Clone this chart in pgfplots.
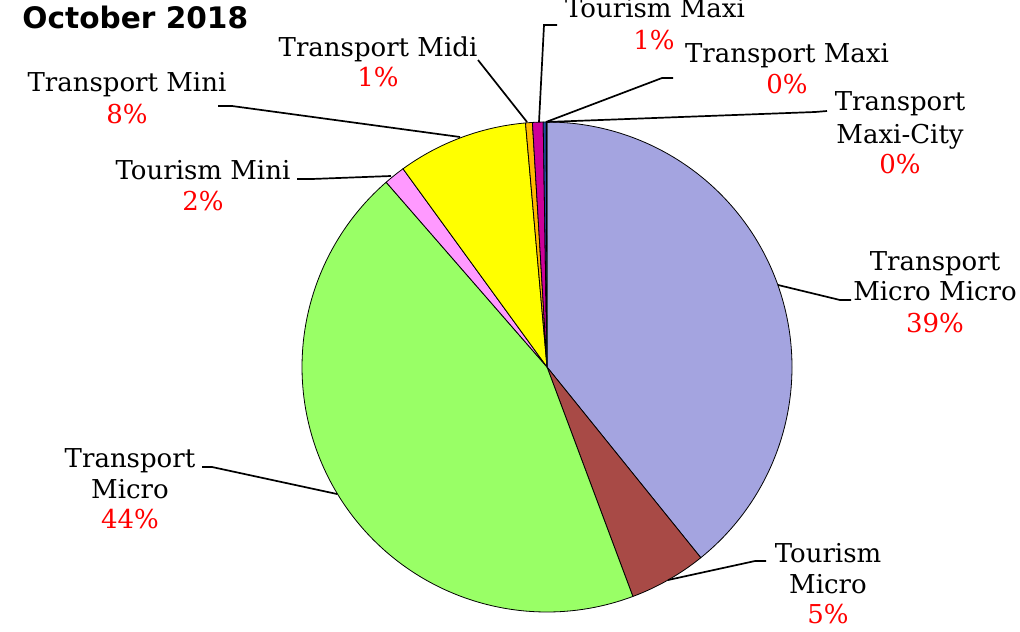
\documentclass[border=0pt]{standalone}
\usepackage{fontspec}
\setmainfont{DejaVu Serif}
\newfontfamily\titlefont{DejaVu Sans}
\usepackage{pgfplots}
\pgfplotsset{compat=1.18}
\usepackage{pgfplotstable}
\definecolor{cmm}{HTML}{A4A4E0}
\definecolor{ctmi}{HTML}{A84A46}
\definecolor{cmic}{HTML}{99FF66}
\definecolor{ctmn}{HTML}{FF99FF}
\definecolor{cmin}{HTML}{FFFF00}
\definecolor{cmid}{HTML}{FFB800}
\definecolor{ctmx}{HTML}{CC0099}
\definecolor{cmax}{HTML}{1F4E9F}
\definecolor{cmxc}{HTML}{33CCCC}
\definecolor{pct}{HTML}{FF0000}

% share of each type, clockwise from 12 o'clock
\pgfplotstableread{
value color
39.2  cmm
5.1   ctmi
44.3  cmic
1.4   ctmn
8.6   cmin
0.45  cmid
0.7   ctmx
0.2   cmax
0.05  cmxc
}\piedata
\pgfplotstablecreatecol[create col/expr accum={\pgfmathaccuma + \thisrow{value}}{0}]{cum}\piedata

\newcommand\lab[3]{\node[font=\fontsize{13}{15}\selectfont,anchor=base] at (axis cs:#1,#2) {#3};}
\newcommand\pc[3]{\node[font=\fontsize{13}{15}\selectfont,anchor=base,text=pct] at (axis cs:#1,#2) {#3};}

\begin{document}
\begin{tikzpicture}
\useasboundingbox (0,0) rectangle (510pt,315.5pt);
\clip (0,0) rectangle (510pt,315.5pt);
\begin{axis}[
  at={(0,0)},anchor=south west,
  scale only axis,width=510pt,height=315.5pt,
  xmin=0,xmax=1020,ymin=0,ymax=631,y dir=reverse,
  hide axis,clip=false
]
\pgfplotsforeachungrouped \i in {0,...,8}{
  \pgfplotstablegetelem{\i}{cum}\of\piedata \let\c\pgfplotsretval
  \pgfplotstablegetelem{\i}{value}\of\piedata \let\v\pgfplotsretval
  \pgfplotstablegetelem{\i}{color}\of\piedata \let\col\pgfplotsretval
  \pgfmathsetmacro\aend{90-3.6*\c}
  \pgfmathsetmacro\astart{90-3.6*(\c-\v)}
  \edef\temp{\noexpand\addplot[fill=\col,draw=black,line width=0.4pt,domain=\aend:\astart,samples=120]
    ({547+245*cos(x)},{367-245*sin(x)}) -- (axis cs:547,367) -- cycle;}
  \temp
}

% leader lines
\begin{scope}[line width=0.85pt]
\draw (axis cs:218,106) -- (axis cs:232,106) -- (axis cs:460,137);
\draw (axis cs:297,179) -- (axis cs:312,179) -- (axis cs:391,176);
\draw (axis cs:478,60) -- (axis cs:527,122);
\draw (axis cs:557,25) -- (axis cs:544,25) -- (axis cs:539,122);
\draw (axis cs:673,78) -- (axis cs:662,78) -- (axis cs:546,122);
\draw (axis cs:827,111) -- (axis cs:815,112) -- (axis cs:547,122);
\draw (axis cs:778,285) -- (axis cs:840,300) -- (axis cs:851,300);
\draw (axis cs:668,580) -- (axis cs:755,561) -- (axis cs:766,561);
\draw (axis cs:202,467) -- (axis cs:212,467) -- (axis cs:337,494);
\end{scope}

% labels
\node[font=\titlefont\bfseries\fontsize{14.8}{18}\selectfont,anchor=base west,inner sep=0pt] at (axis cs:22,29) {October 2018};
\lab{127}{91}{Transport Mini} \pc{127}{123}{8\%}
\lab{203}{179}{Tourism Mini} \pc{203}{210}{2\%}
\lab{378}{57}{Transport Midi} \pc{378}{86}{1\%}
\lab{655}{18}{Tourism Maxi} \pc{654}{50}{1\%}
\lab{787}{62}{Transport Maxi} \pc{787}{93}{0\%}
\lab{900}{111}{Transport} \lab{900}{143}{Maxi-City} \pc{900}{173}{0\%}
\lab{935}{270}{Transport} \lab{935}{300}{Micro Micro} \pc{935}{332}{39\%}
\lab{828}{562}{Tourism} \lab{828}{593}{Micro} \pc{828}{623}{5\%}
\lab{130}{467}{Transport} \lab{130}{498}{Micro} \pc{130}{528}{44\%}
\end{axis}
\end{tikzpicture}
\end{document}
